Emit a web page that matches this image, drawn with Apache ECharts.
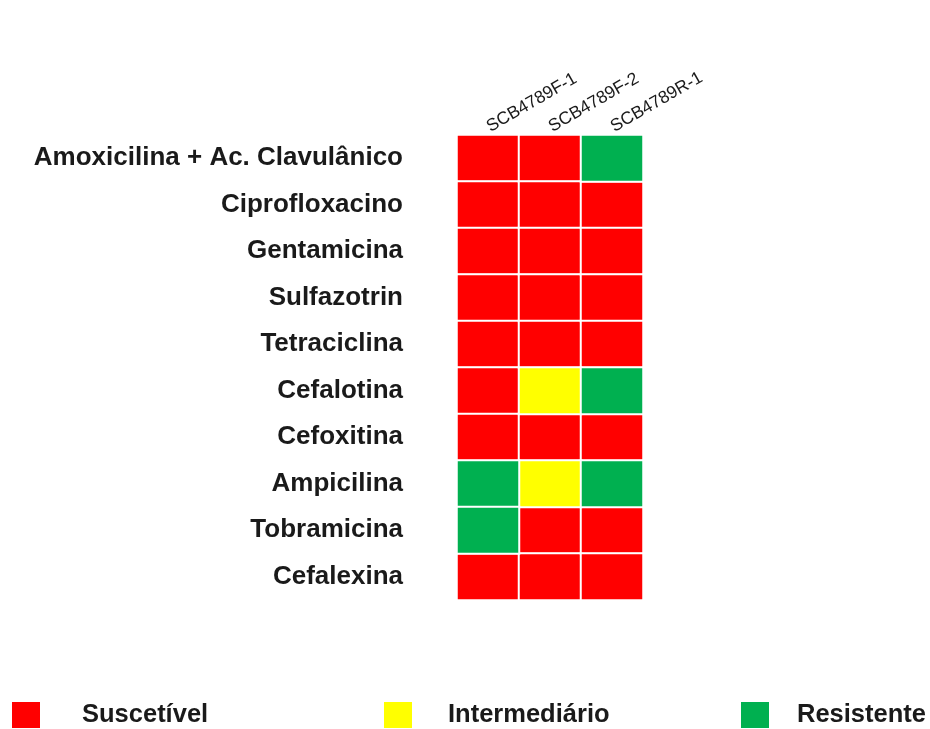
<!DOCTYPE html>
<html>
<head>
<meta charset="utf-8">
<script src="https://cdn.jsdelivr.net/npm/echarts@6/dist/echarts.min.js"></script>
<style>html,body{margin:0;padding:0;background:#fff;}#c{width:930px;height:729px;}</style>
</head>
<body>
<div id="c"></div>
<script>
const antibiotics = ['Amoxicilina + Ac. Clavulânico','Ciprofloxacino','Gentamicina','Sulfazotrin','Tetraciclina','Cefalotina','Cefoxitina','Ampicilina','Tobramicina','Cefalexina'];
const strains = ['SCB4789F-1','SCB4789F-2','SCB4789R-1'];
// S = Suscetível, I = Intermediário, R = Resistente (per strain, rows top to bottom)
const strainF1 = ['S','S','S','S','S','S','S','R','R','S'];
const strainF2 = ['S','S','S','S','S','I','S','I','S','S'];
const strainR1 = ['R','S','S','S','S','R','S','R','S','S'];
const classes = [
  {code:'S', name:'Suscetível', color:'#ff0000'},
  {code:'I', name:'Intermediário', color:'#ffff00'},
  {code:'R', name:'Resistente', color:'#00b050'}
];
const columns = [strainF1, strainF2, strainR1];

const series = classes.map(c => {
  const data = [];
  columns.forEach((col, xi) => col.forEach((v, yi) => { if (v === c.code) data.push([xi, yi, 1]); }));
  return {
    name: c.name, type: 'heatmap', data: data,
    itemStyle: {color: c.color, borderColor: '#ffffff', borderWidth: 2},
    emphasis: {disabled: true}, label: {show: false}
  };
});

const legendPos = [10, 382, 739];
const legendTextGap = [36, 30, 22];
const legends = classes.map((c, i) => ({
  data: [{name: c.name, icon: 'rect'}],
  left: legendPos[i], top: 700, itemWidth: 30, itemHeight: 28,
  selectedMode: false, padding: 0,
  textStyle: {fontFamily: 'Liberation Sans', fontSize: 25.5, fontWeight: 'bold', color: '#1a1a1a', padding: [0,0,0,legendTextGap[i]]}
}));

const chart = echarts.init(document.getElementById('c'));
chart.setOption({
  backgroundColor: '#ffffff',
  animation: false,
  grid: {left: 457, right: 287, top: 135, bottom: 129},
  xAxis: {
    type: 'category', data: strains, position: 'top',
    axisLine: {show: false}, axisTick: {show: false}, splitLine: {show: false},
    axisLabel: {rotate: -30, fontFamily: 'Liberation Sans', fontSize: 17.5, color: '#1a1a1a', margin: 7}
  },
  yAxis: {
    type: 'category', data: antibiotics, inverse: true,
    axisLine: {show: false}, axisTick: {show: false}, splitLine: {show: false},
    axisLabel: {fontFamily: 'Liberation Sans', fontSize: 26, fontWeight: 'bold', color: '#1a1a1a', margin: 54}
  },
  legend: legends,
  series: series
});
</script>
</body>
</html>
